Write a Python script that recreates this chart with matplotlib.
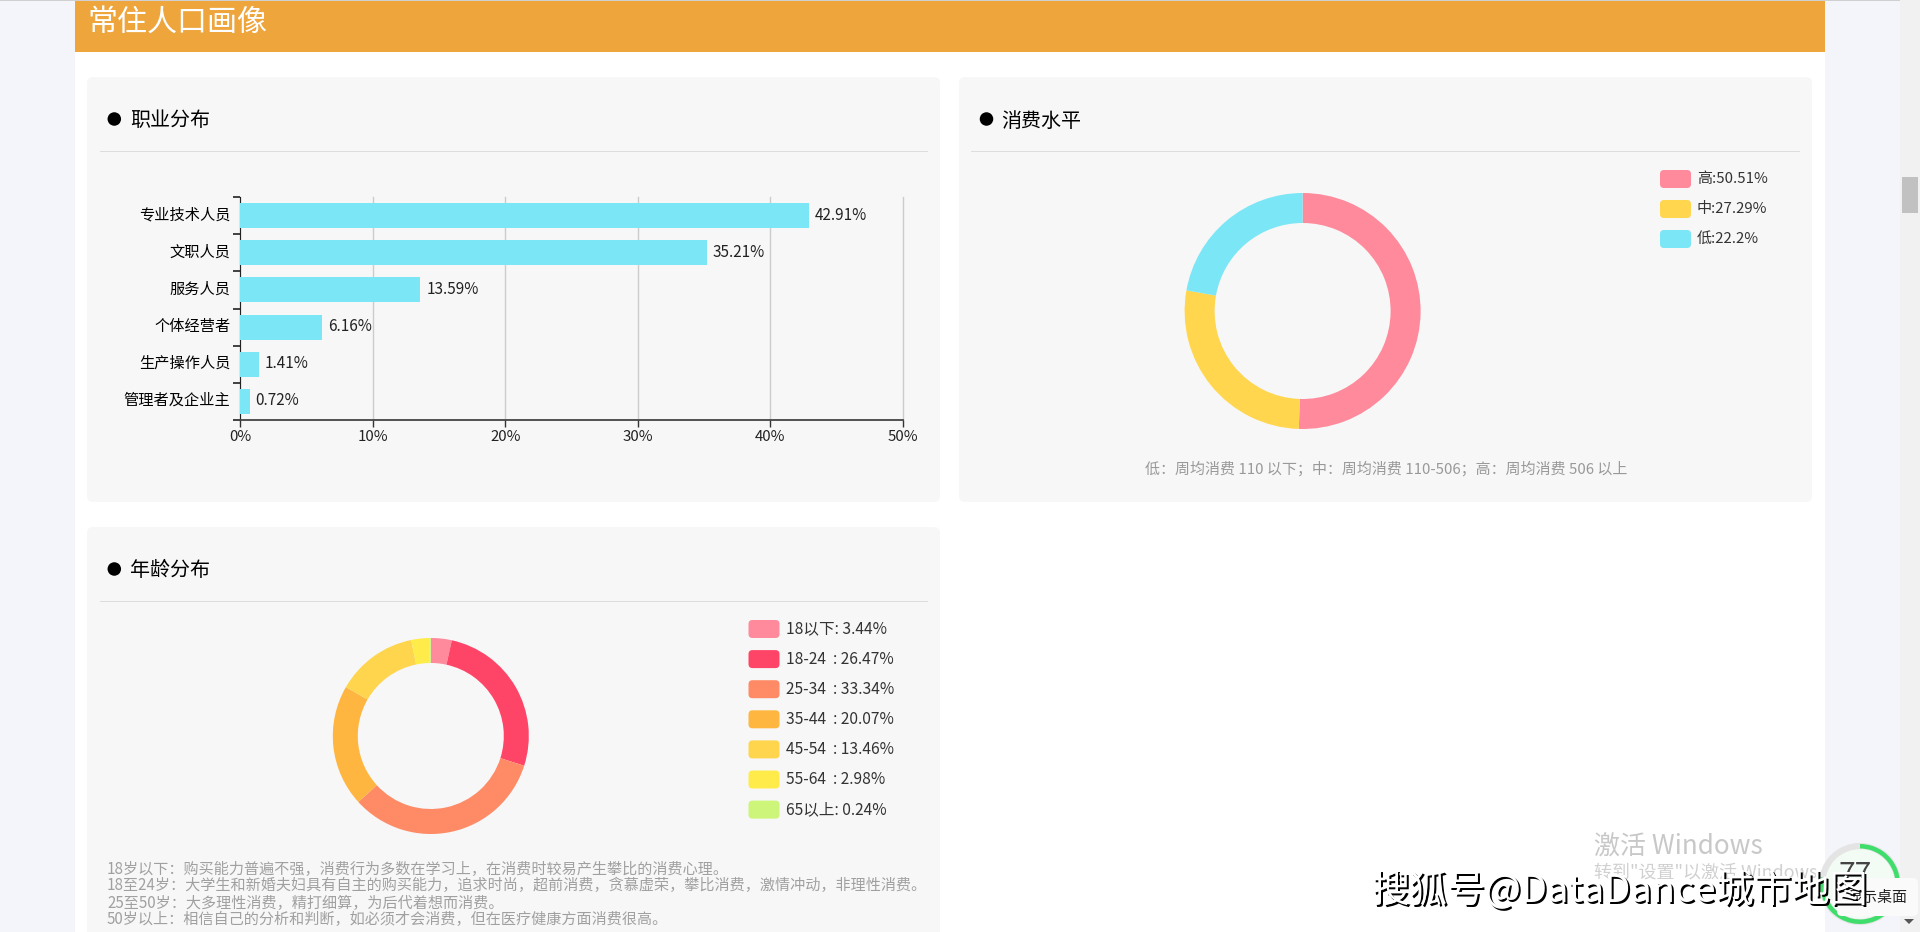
import matplotlib
matplotlib.use("Agg")
import matplotlib.pyplot as plt
from matplotlib.patches import FancyBboxPatch, Rectangle, Ellipse, Circle, Wedge, Polygon
from matplotlib.transforms import ScaledTranslation

FONT = ['Noto Sans CJK SC', 'DejaVu Sans']
plt.rcParams['font.family'] = FONT

# ---- data ----
job_labels = ['专业技术人员', '文职人员', '服务人员', '个体经营者', '生产操作人员', '管理者及企业主']
job_values = [42.91, 35.21, 13.59, 6.16, 1.41, 0.72]
x_ticks = [0, 10, 20, 30, 40, 50]

spend_labels = ['高', '中', '低']
spend_values = [50.51, 27.29, 22.2]
spend_colors = ['#FF8A9C', '#FFD64D', '#7BE6F5']

age_labels = ['18以下', '18-24  ', '25-34  ', '35-44  ', '45-54  ', '55-64  ', '65以上']
age_values = [3.44, 26.47, 33.34, 20.07, 13.46, 2.98, 0.24]
age_colors = ['#FF8A9C', '#FF4567', '#FF8B66', '#FFB640', '#FFD54D', '#FFEC4A', '#CCF57A']

spend_note = '低：周均消费 110 以下；中：周均消费 110-506；高：周均消费 506 以上'
age_notes = ['18岁以下：购买能力普遍不强，消费行为多数在学习上，在消费时较易产生攀比的消费心理。',
             '18至24岁：大学生和新婚夫妇具有自主的购买能力，追求时尚，超前消费，贪慕虚荣，攀比消费，激情冲动，非理性消费。',
             '25至50岁：大多理性消费，精打细算，为后代着想而消费。',
             '50岁以上：相信自己的分析和判断，如必须才会消费，但在医疗健康方面消费很高。']

W, H = 1920, 932
PX = 0.72
fig = plt.figure(figsize=(W / 100, H / 100), dpi=100, facecolor='#F4F5FA')
bg = fig.add_axes([0, 0, 1, 1])
bg.set_xlim(0, W); bg.set_ylim(H, 0); bg.axis('off')


def axes_px(x0, y0, x1, y1):
    return fig.add_axes([x0 / W, 1 - y1 / H, (x1 - x0) / W, (y1 - y0) / H], facecolor='none')


def rect(x0, y0, x1, y1, c, z=1):
    bg.add_patch(Rectangle((x0, y0), x1 - x0, y1 - y0, fc=c, ec='none', zorder=z))


def rrect(x0, y0, x1, y1, c, r=6, z=2):
    bg.add_patch(FancyBboxPatch((x0 + r, y0 + r), x1 - x0 - 2 * r, y1 - y0 - 2 * r,
                                boxstyle=f'round,pad={r},rounding_size={r}', fc=c, ec='none', zorder=z))


def txt(x, y, s, px, c='#000000', ha='left', z=5, **kw):
    return bg.text(x, y, s, fontsize=px * PX, color=c, ha=ha, va='center', zorder=z, family=FONT, **kw)


# page background
rect(75, 0, 1825, H, '#FFFFFF')
rect(1900, 0, 1920, H, '#F1F1F1')
rect(1902, 177, 1918, 213, '#C1C1C1')
rect(0, 0, 1900, 1, '#D0D0D0', z=3)
rect(75, 1, 1825, 52, '#EDA53C', z=2)
txt(87, 22, '常住人口画像', 30, '#FFFFFF')

# panels
panels = [(87, 77, 940, 502, '职业分布', 114.3, 130, 100, 928, 119, 151),
          (959, 77, 1812, 502, '消费水平', 986.5, 1001, 971, 1800, 119, 151),
          (87, 527, 940, 950, '年龄分布', 114.3, 130, 100, 928, 569, 601)]
for x0, y0, x1, y1, title, dx, tx, rx0, rx1, ty, ry in panels:
    rrect(x0, y0, x1, y1, '#F7F7F7')
    bg.add_patch(Ellipse((dx, ty), 13.5, 13.5, fc='#000000', ec='none', zorder=4))
    txt(tx, ty + 2, title, 20)
    rect(rx0, ry, rx1, ry + 1, '#DDDDDD', z=3)

# bar chart
ax = axes_px(240, 197, 903, 420)
pos = list(range(len(job_labels)))
ax.barh(pos, job_values, height=0.67, color='#7BE6F5', zorder=3)
ax.set_xlim(x_ticks[0], x_ticks[-1])
ax.set_ylim(len(pos) - 0.5, -0.5)
ax.set_xticks(x_ticks)
ax.set_xticklabels([f'{t}%' for t in x_ticks], fontsize=15 * PX, color='#222222')
ax.set_yticks(pos)
ax.set_yticklabels(job_labels, fontsize=15.2 * PX, color='#000000', va='center')
ax.set_yticks([p - 0.5 for p in pos] + [pos[-1] + 0.5], minor=True)
ax.tick_params(axis='y', which='major', length=0, pad=7)
ax.tick_params(axis='y', which='minor', length=5 * PX * 1.4, width=1.2, color='#222222')
ax.tick_params(axis='x', length=5 * PX * 1.4, width=1, color='#333333', pad=2.5)
up = ScaledTranslation(0, 1.0 / 100, fig.dpi_scale_trans)
for lab in ax.get_yticklabels():
    lab.set_transform(lab.get_transform() + up)
ax.grid(axis='x', color='#CCCCCC', lw=1, zorder=1)
for gl in ax.get_xgridlines():
    gl.set_clip_on(False)
ax.set_axisbelow(True)
for s in ('top', 'right'):
    ax.spines[s].set_visible(False)
ax.spines['left'].set_color('#222222')
ax.spines['bottom'].set_color('#444444')
ax.spines['bottom'].set_linewidth(1.3)
for p, v in zip(pos, job_values):
    ax.annotate(f'{v}%', (v, p), xytext=(6 * PX, 0.4), textcoords='offset points',
                va='center', ha='left', fontsize=15.3 * PX, color='#222222', family=FONT)


def donut(cx, cy, R, r, values, colors):
    a = axes_px(cx - R, cy - R, cx + R, cy + R)
    a.pie(values, colors=colors, startangle=90, counterclock=False, radius=1,
          wedgeprops=dict(width=(R - r) / R, linewidth=0))
    a.set_xlim(-1, 1); a.set_ylim(-1, 1); a.axis('off')


def legend(x0, y0, step, labels, values, colors, sep, px):
    for i, (l, v, c) in enumerate(zip(labels, values, colors)):
        y = y0 + i * step
        rrect(x0, y, x0 + 31, y + 18, c, r=4, z=4)
        txt(x0 + 37, y + 9, f'{l}{sep}{v}%', px, '#333333')


donut(1302.6, 311, 118, 88, spend_values, spend_colors)
legend(1660, 170, 30, spend_labels, spend_values, spend_colors, ':', 15)
txt(1386, 469, spend_note, 15, '#999999', ha='center')

donut(430.8, 736, 98, 73, age_values, age_colors)
legend(748.5, 620, 30.1, age_labels, age_values, age_colors, ': ', 15.6)
for i, line in enumerate(age_notes):
    txt(107, 869 + i * 17, line, 15.1, '#A0A0A0')

# overlays from the screenshot
txt(1594, 847, '激活 Windows', 26, '#C8C8C8')
txt(1594, 872, '转到"设置"以激活 Windows', 18, '#D0D0D0')
bg.add_patch(Circle((1860, 884), 38, fc='#F2FBF4', ec='#E4E4E4', lw=4.5, zorder=6))
bg.add_patch(Wedge((1860, 884), 40, -90, 190, width=4.5, fc='#3FDD6B', ec='none', zorder=6.5))
txt(1855, 875, '77', 30, '#444444', ha='center', z=7)
rrect(1837, 878, 1918, 916, '#FAFAFA', r=5, z=8)
txt(1877, 898, '显示桌面', 15, '#222222', ha='center', z=9)
bg.add_patch(Polygon([[1904, 919], [1914, 919], [1909, 924]], closed=True, fc='#555555', ec='none', zorder=9))
wm = '搜狐号@DataDance城市地图'
txt(1373.5, 892.5, wm, 38, '#000000', z=10)
txt(1372, 891, wm, 38, '#FFFFFF', z=11)

fig.savefig('out.png', dpi=100, facecolor=fig.get_facecolor())
